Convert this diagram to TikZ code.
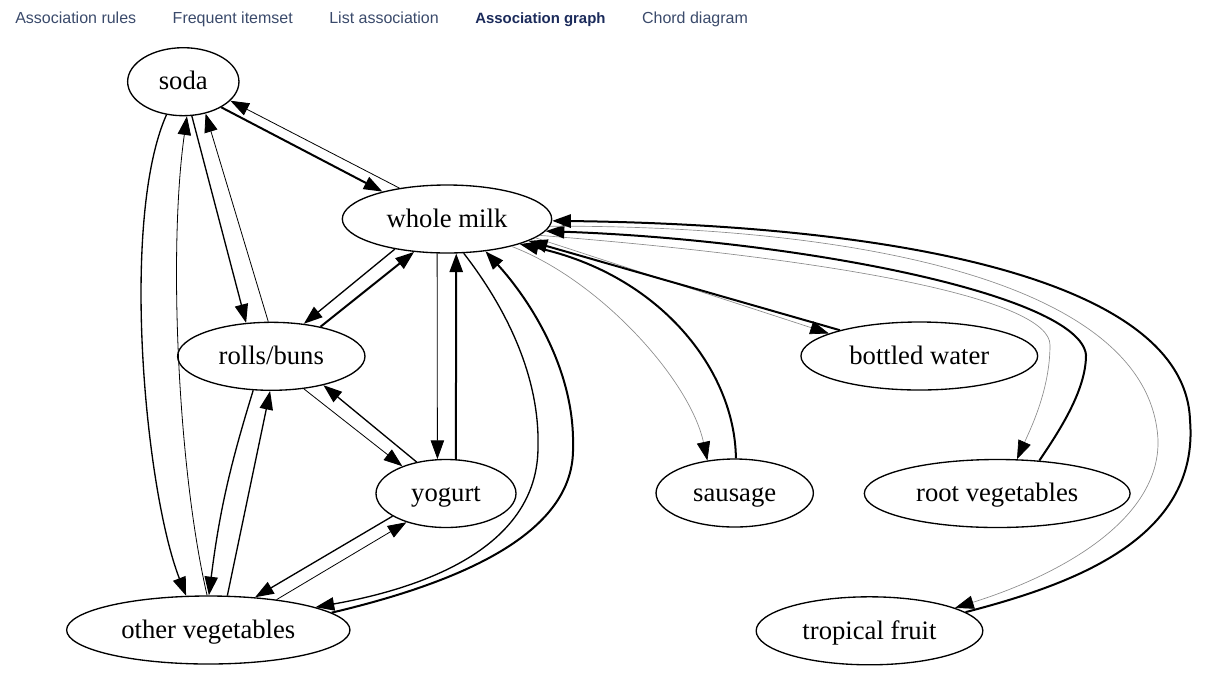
\documentclass[tikz,border=0pt]{standalone}
\usepackage{fontspec}
\setmainfont{Liberation Serif}
\newfontfamily\tabfont{Liberation Sans}
\usepackage{tikz}
\usetikzlibrary{shapes,arrows.meta,positioning}
\definecolor{tabgray}{HTML}{3A4A6B}
\definecolor{tabnavy}{HTML}{1B2B5B}
\tikzset{
  >={Triangle[length=14pt,width=10pt]},
  itemnode/.style={
  ellipse,
  draw=black,
  line width=1pt,
  inner sep=0pt,
  minimum width=#1pt,
  minimum height=51pt,
  font=\fontsize{20}{24}\selectfont,
  text height=16.6pt,
  text depth=4.2pt
  },
  tablabel/.style={font=\tabfont\fontsize{12}{14}\selectfont,text=tabgray,inner sep=0pt},
  seltablabel/.style={tablabel,font=\tabfont\bfseries\fontsize{11.2}{14}\selectfont,text=tabnavy},
  boldrule/.style={->,line width=1.5pt},
  midrule/.style={->,line width=1pt},
  thinrule/.style={->,line width=0.6pt},
  grayrule/.style={draw=black!45,line width=0.5pt,-{Triangle[length=14pt,width=10pt,color=black]}}
}

\begin{document}
\begin{tikzpicture}[x=0.75pt,y=-0.75pt]
  \useasboundingbox (0,0) rectangle (1210,690);

  % tab bar
  \node [tablabel,anchor=base west] (tab1) at (15,23) {Association rules};
  \node [tablabel,base right=27pt of tab1] (tab2) {Frequent itemset};
  \node [tablabel,base right=27pt of tab2] (tab3) {List association};
  \node [seltablabel,base right=27pt of tab3] (tab4) {Association graph};
  \node [tablabel,base right=27pt of tab4] (tab5) {Chord diagram};

  % items
  \node [itemnode=83.5] (soda) at (183.3,81.7) {soda};
  \node [itemnode=157] (milk) at (447,219) {whole milk};
  \node [itemnode=140.5] (rolls) at (271.3,356.3) {rolls/buns};
  \node [itemnode=105] (yogurt) at (446,493.5) {yogurt};
  \node [itemnode=212.5] (othveg) at (208.3,630) {other vegetables};
  \node [itemnode=177.5] (water) at (919.3,356) {bottled water};
  \node [itemnode=118] (sausage) at (734.7,493) {sausage};
  \node [itemnode=199.3] (rootveg) at (997.2,493.5) {root vegetables};
  \node [itemnode=170] (tropical) at (869.5,630.8) {tropical fruit};

  % soda
  \draw [boldrule] (soda.-34) -- (milk.157);
  \draw [thinrule] (milk.147) -- (soda.-22);
  \draw [midrule] (soda.-76) -- (rolls.127);
  \draw [thinrule] (rolls.95) -- (soda.-55);
  \draw [midrule] (soda.-117) .. controls (120,220) and (145,490) .. (othveg.123);
  \draw [thinrule] (othveg.92) .. controls (178,470) and (168,250) .. (soda.-84);

  % whole milk, left side
  \draw [midrule] (milk.-150) -- (rolls.45);
  \draw [boldrule] (rolls.31) -- (milk.-135);
  \draw [thinrule] (milk.-106) -- (yogurt.104);
  \draw [boldrule] (yogurt.74) -- (milk.-75);
  \draw [midrule] (milk.-64) .. controls (500,300) and (540,370) .. (538,447)
    .. controls (538,540) and (440,585) .. (othveg.12);
  \draw [boldrule] (othveg.8) .. controls (470,580) and (575,530) .. (573,447)
    .. controls (575,370) and (530,300) .. (milk.-40);

  % rolls/buns, yogurt, other vegetables
  \draw [thinrule] (rolls.-45) -- (yogurt.148);
  \draw [midrule] (yogurt.133) -- (rolls.-29);
  \draw [midrule] (rolls.-118) to [bend right=5] (othveg.89);
  \draw [midrule] (othveg.61) -- (rolls.-92);
  \draw [midrule] (yogurt.-157) -- (othveg.35);
  \draw [thinrule] (othveg.24) -- (yogurt.-144);

  % whole milk, right side
  \draw [grayrule] (milk.-23) .. controls (600,280) and (690,380) .. (sausage.130);
  \draw [boldrule] (sausage.88) .. controls (735,370) and (660,275) .. (milk.-19);
  \draw [grayrule] (milk.-12) -- (water.166);
  \draw [boldrule] (water.162) -- (milk.-15);
  \draw [grayrule] (milk.-10) .. controls (850,260) and (1050,300) .. (1050,345)
    .. controls (1050,390) and (1030,430) .. (rootveg.60);
  \draw [boldrule] (rootveg.38) .. controls (1060,430) and (1086,390) .. (1086,355)
    .. controls (1080,295) and (800,240) .. (milk.-7);
  \draw [grayrule] (milk.-4) .. controls (850,225) and (1150,280) .. (1158,440)
    .. controls (1160,520) and (1060,575) .. (tropical.15);
  \draw [boldrule] (tropical.11) .. controls (1070,585) and (1200,540) .. (1190,420)
    .. controls (1185,280) and (900,225) .. (milk.-1);
\end{tikzpicture}
\end{document}
